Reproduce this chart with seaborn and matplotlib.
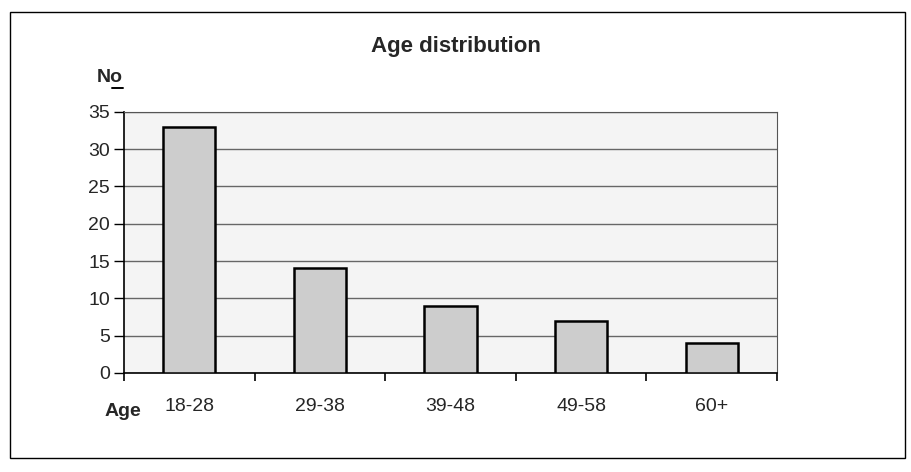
import matplotlib
matplotlib.use("Agg")
import matplotlib.pyplot as plt
import seaborn as sns
import pandas as pd

# age groups and counts
ages = ["18-28", "29-38", "39-48", "49-58", "60+"]
counts = [33, 14, 9, 7, 4]
yticks = [0, 5, 10, 15, 20, 25, 30, 35]

sns.set_style("white")
plt.rcParams['font.family'] = ['Liberation Sans', 'DejaVu Sans']

data = pd.DataFrame({"Age": ages, "No": counts})

fig = plt.figure(figsize=(9.12, 4.72), dpi=100)
ax = fig.add_axes([0.136, 0.21, 0.716, 0.553])
ax.set_facecolor("#f4f4f4")

sns.barplot(data=data, x="Age", y="No", color="#cdcdcd", width=0.4,
            edgecolor="black", linewidth=1.8, saturation=1, ax=ax, zorder=3)

ax.set_ylim(0, 35)
ax.set_xlim(-0.5, len(ages) - 0.5)
ax.set_yticks(yticks)
ax.yaxis.grid(True, color="#666666", linewidth=1, zorder=0)
ax.set_axisbelow(True)

ax.set_xticks(range(len(ages)))
ax.set_xticklabels(ages, fontsize=14)
ax.set_xticks([i - 0.5 for i in range(len(ages) + 1)], minor=True)
ax.tick_params(axis="x", which="major", bottom=False, length=0, pad=18)
ax.tick_params(axis="x", which="minor", bottom=True, length=6, width=1.2, color="black", direction="out")
ax.tick_params(axis="y", left=True, length=7, width=1, color="black", direction="out", labelsize=14, pad=3)

ax.set_xlabel("")
ax.set_ylabel("")
for side in ["left", "bottom"]:
    ax.spines[side].set_color("black")
    ax.spines[side].set_linewidth(1.2)
for side in ["top", "right"]:
    ax.spines[side].set_color("#555555")
    ax.spines[side].set_linewidth(0.8)

fig.text(0.5, 0.902, "Age distribution", ha="center", va="center", fontsize=16, fontweight="bold")
fig.text(0.106, 0.836, "No", ha="left", va="center", fontsize=14, fontweight="bold")
# underline under the "o"
fig.add_artist(plt.Line2D([0.1225, 0.1345], [0.814, 0.814], color="black", linewidth=1.4))
fig.text(0.115, 0.128, "Age", ha="left", va="center", fontsize=14, fontweight="bold")

border = plt.Rectangle((0.011, 0.03), 0.981, 0.944, transform=fig.transFigure,
                       fill=False, edgecolor="black", linewidth=1)
fig.add_artist(border)

fig.savefig("out.png", dpi=100)
